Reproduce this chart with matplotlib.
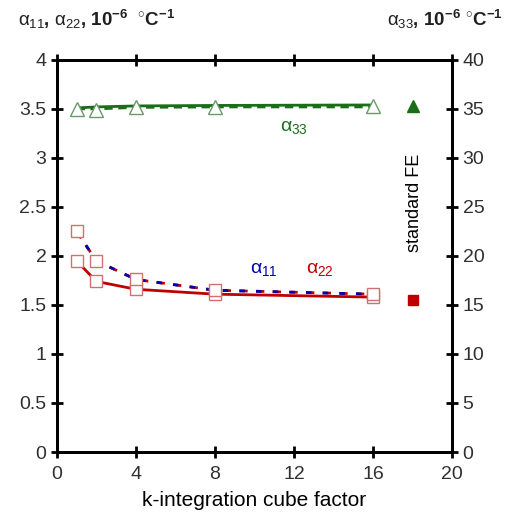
import matplotlib
matplotlib.use("Agg")
import matplotlib.pyplot as plt

plt.rcParams['font.family'] = ['Liberation Sans', 'DejaVu Sans']
plt.rcParams['mathtext.fontset'] = 'custom'
plt.rcParams['mathtext.rm'] = 'Liberation Sans'
plt.rcParams['mathtext.it'] = 'Liberation Sans'
plt.rcParams['mathtext.bf'] = 'Liberation Sans:bold'

# k-integration cube factor
k = [1, 2, 4, 8, 16]
# alpha values, 10^-6 / C
a22 = [1.95, 1.74, 1.66, 1.61, 1.58]
a11 = [2.25, 1.95, 1.76, 1.65, 1.61]
a33_solid = [35.1, 35.2, 35.3, 35.35, 35.4]
a33_dash = [35.0, 35.0, 35.15, 35.2, 35.2]
a33_marks = [35.0, 34.9, 35.2, 35.2, 35.3]
# standard FE reference values
fe_x = 18
fe_a11 = 1.55
fe_a33 = 35.3

red = '#c00000'
blue = '#0000b0'
green = '#1a6e1a'
tick_col = '#303030'

fig = plt.figure(figsize=(5.12, 5.16), dpi=100)
ax = fig.add_axes([0.111, 0.124, 0.772, 0.760])
ax2 = ax.twinx()

ax.plot(k, a22, '-', color=red, lw=2)
ax.plot(k, a11, '--', color=red, lw=2, dashes=(3, 3))
ax.plot(k, a11, '--', color=blue, lw=2, dashes=(2, 4), dash_capstyle='butt')
ax.plot(k, a22, 's', mfc='white', mec='#d07070', ms=9, mew=1)
ax.plot(k, a11, 's', mfc='white', mec='#d07070', ms=9, mew=1)
ax.plot(fe_x, fe_a11, 's', color=red, ms=7)

ax2.plot(k, a33_solid, '-', color=green, lw=2)
ax2.plot(k, a33_dash, '--', color=green, lw=2, dashes=(3, 2))
ax2.plot(k, a33_marks, '^', mfc='white', mec='#6a9a6a', ms=10, mew=1)
ax2.plot(fe_x, fe_a33, '^', color=green, ms=8)

ax.text(10.5, 1.83, r'$\alpha_{11}$', color=blue, fontsize=14, ha='center')
ax.text(13.3, 1.83, r'$\alpha_{22}$', color=red, fontsize=14, ha='center')
ax.text(12.0, 3.27, r'$\alpha_{33}$', color=green, fontsize=14, ha='center')
ax.text(18.1, 2.54, 'standard FE', rotation=90, fontsize=13, ha='center', va='center')

ax.set_xlim(0, 20)
ax.set_ylim(0, 4)
ax2.set_ylim(0, 40)
ax.set_xticks([0, 4, 8, 12, 16, 20])
ax.set_yticks([0, 0.5, 1, 1.5, 2, 2.5, 3, 3.5, 4])
ax.set_yticklabels(['0', '0.5', '1', '1.5', '2', '2.5', '3', '3.5', '4'])
ax2.set_yticks(range(0, 41, 5))
ax.set_xlabel('k-integration cube factor', fontsize=15, labelpad=6)

for a in (ax, ax2):
    for s in a.spines.values():
        s.set_linewidth(2)
    a.tick_params(direction='inout', length=8, width=2, labelsize=14,
                  labelcolor=tick_col)
ax.tick_params(axis='x', top=True, pad=6)

fig.text(0.035, 0.962, r'$\alpha_{11}$, $\alpha_{22}$, $\mathbf{10^{-6}}$  $\mathbf{^{\circ}C^{-1}}$',
         fontsize=13.5, fontweight='bold', va='center', color='#202020')
fig.text(0.755, 0.962, r'$\alpha_{33}$, $\mathbf{10^{-6}}$ $\mathbf{^{\circ}C^{-1}}$',
         fontsize=13.5, fontweight='bold', va='center', color='#202020')

fig.savefig('out.png', dpi=100)
